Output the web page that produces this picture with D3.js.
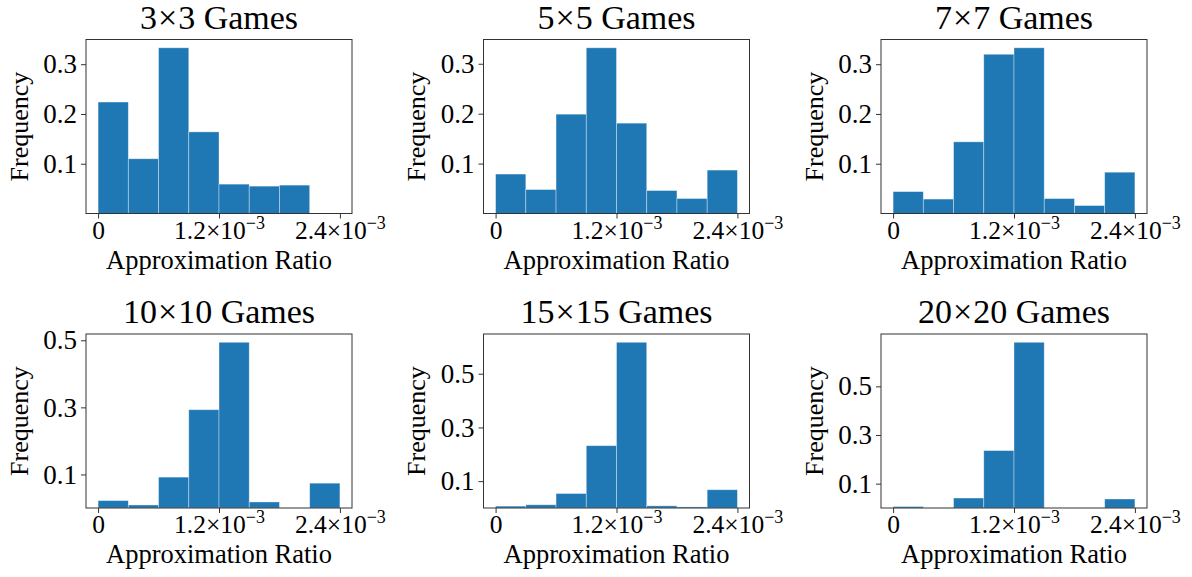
<!DOCTYPE html>
<html>
<head>
<meta charset="utf-8">
<style>
  body { margin: 0; background: #fff; }
  text { font-family: "Liberation Serif", "Times New Roman", serif; fill: #000; }
</style>
</head>
<body>
<script src="https://cdn.jsdelivr.net/npm/d3@7"></script>
<script>
// bin edges are 0 .. 2.4e-3 in steps of 0.3e-3 (8 bins)
var binEdges = [0, 0.3e-3, 0.6e-3, 0.9e-3, 1.2e-3, 1.5e-3, 1.8e-3, 2.1e-3, 2.4e-3];
var titles = ["3\u00d73 Games", "5\u00d75 Games", "7\u00d77 Games",
              "10\u00d710 Games", "15\u00d715 Games", "20\u00d720 Games"];
var freq3  = [0.224, 0.110, 0.333, 0.164, 0.059, 0.055, 0.057, 0.000];
var freq5  = [0.079, 0.048, 0.199, 0.332, 0.181, 0.046, 0.030, 0.087];
var freq7  = [0.044, 0.029, 0.144, 0.320, 0.333, 0.030, 0.016, 0.083];
var freq10 = [0.022, 0.009, 0.092, 0.293, 0.494, 0.018, 0.000, 0.074];
var freq15 = [0.007, 0.012, 0.054, 0.232, 0.617, 0.008, 0.004, 0.068];
var freq20 = [0.006, 0.000, 0.041, 0.236, 0.681, 0.000, 0.000, 0.037];
var allFreq = [freq3, freq5, freq7, freq10, freq15, freq20];
var yTicksTop = [0.1, 0.2, 0.3];
var yTicksBottom = [0.1, 0.3, 0.5];
var xTicks = [0, 1.2e-3, 2.4e-3];
var xTickLabels = [["0", ""], ["1.2\u00d710", "\u22123"], ["2.4\u00d710", "\u22123"]];

var W = 1192, H = 577;
var svg = d3.select("body").append("svg")
    .attr("width", W)
    .attr("height", H);

var colLeft = [86, 483.5, 881];
var rowTop = [39.5, 334];
var pw = 266, ph = 174;

allFreq.forEach(function(freq, k) {
    var col = k % 3, row = Math.floor(k / 3);
    var g = svg.append("g")
        .attr("transform", "translate(" + colLeft[col] + "," + rowTop[row] + ")");

    var lo = binEdges[0], hi = binEdges[binEdges.length - 1];
    var pad = (hi - lo) * 0.05;
    var x = d3.scaleLinear().domain([lo - pad, hi + pad]).range([0, pw]);
    var y = d3.scaleLinear().domain([0, d3.max(freq) * 1.05]).range([ph, 0]);

    var bins = freq.map(function(f, i) { return {x0: binEdges[i], x1: binEdges[i + 1], f: f}; });

    g.selectAll("rect.bar")
        .data(bins.filter(function(d) { return d.f > 0; }))
        .join("rect")
        .attr("class", "bar")
        .attr("x", function(d) { return x(d.x0); })
        .attr("width", function(d) { return x(d.x1) - x(d.x0); })
        .attr("y", function(d) { return y(d.f); })
        .attr("height", function(d) { return y(0) - y(d.f); })
        .attr("fill", "#1f77b4")
        .attr("stroke", "#ffffff")
        .attr("stroke-opacity", 0.45)
        .attr("stroke-width", 0.8);

    // frame
    g.append("rect")
        .attr("width", pw).attr("height", ph)
        .attr("fill", "none")
        .attr("stroke", "#333")
        .attr("stroke-width", 1);

    var xa = g.append("g")
        .attr("transform", "translate(0," + ph + ")")
        .call(d3.axisBottom(x).tickValues(xTicks).tickSize(5).tickPadding(4).tickFormat(""));
    xa.select(".domain").remove();
    xa.selectAll(".tick line").attr("stroke", "#333");
    xa.selectAll(".tick text").each(function(d, i) {
        var t = d3.select(this)
            .attr("font-size", 25.5)
            .attr("dy", 16)
            .attr("fill", "#000");
        t.append("tspan").text(xTickLabels[i][0]);
        if (xTickLabels[i][1]) {
            t.append("tspan")
                .attr("font-size", 18)
                .attr("dy", -10)
                .text(xTickLabels[i][1]);
        }
    });

    var ya = g.append("g")
        .call(d3.axisLeft(y).tickValues(row === 0 ? yTicksTop : yTicksBottom)
            .tickSize(5).tickPadding(4).tickFormat(d3.format(".1f")));
    ya.select(".domain").remove();
    ya.selectAll(".tick line").attr("stroke", "#333");
    ya.selectAll(".tick text").attr("font-size", 27).attr("fill", "#000");

    // title, a touch of spacing around the times sign
    var parts = titles[k].split("\u00d7");
    var tt = g.append("text")
        .attr("x", pw / 2)
        .attr("y", -11)
        .attr("text-anchor", "middle")
        .attr("font-size", 34);
    tt.append("tspan").text(parts[0]);
    tt.append("tspan").attr("dx", 1).text("\u00d7");
    tt.append("tspan").attr("dx", 1).text(parts[1]);

    g.append("text")
        .attr("x", pw / 2)
        .attr("y", ph + 55)
        .attr("text-anchor", "middle")
        .attr("font-size", 26.5)
        .text("Approximation Ratio");

    g.append("text")
        .attr("transform", "translate(" + (-58.5) + "," + (ph / 2) + ") rotate(-90)")
        .attr("text-anchor", "middle")
        .attr("font-size", 26)
        .text("Frequency");
});
</script>
</body>
</html>
